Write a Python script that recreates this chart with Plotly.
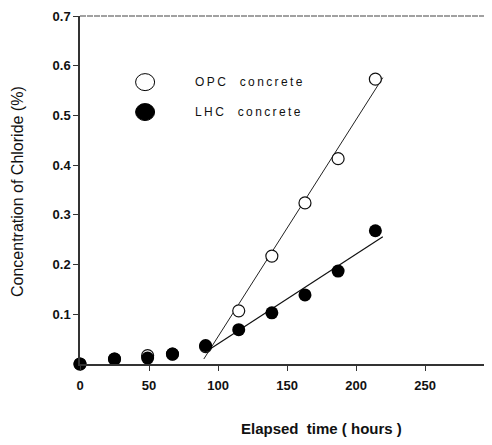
import plotly.graph_objects as go

# Elapsed time (hours)
hours = [0, 25, 49, 67, 91, 115, 139, 163, 187, 214]
# Chloride concentration (%)
opc_values = [0.0, 0.01, 0.017, 0.02, 0.035, 0.107, 0.217, 0.324, 0.413, 0.573]
lhc_values = [0.0, 0.01, 0.012, 0.02, 0.037, 0.069, 0.103, 0.139, 0.187, 0.268]

# Fitted lines (end points)
opc_fit_x = [89.7, 219.4]
opc_fit_y = [0.01, 0.576]
lhc_fit_x = [92, 219.4]
lhc_fit_y = [0.026, 0.256]

x_ticks = [0, 50, 100, 150, 200, 250]
y_ticks = [0.1, 0.2, 0.3, 0.4, 0.5, 0.6, 0.7]

series_names = ["OPC  concrete", "LHC  concrete"]

FONT = "Liberation Sans, Arial, sans-serif"

fig = go.Figure()
fig.add_trace(go.Scatter(x=opc_fit_x, y=opc_fit_y, mode="lines",
                         line=dict(color="#222", width=1), showlegend=False, hoverinfo="skip"))
fig.add_trace(go.Scatter(x=lhc_fit_x, y=lhc_fit_y, mode="lines",
                         line=dict(color="#111", width=1.2), showlegend=False, hoverinfo="skip"))
fig.add_trace(go.Scatter(x=hours, y=opc_values, mode="markers", name=series_names[0],
                         marker=dict(symbol="circle", size=12, color="white",
                                     line=dict(color="#111", width=1.2)),
                         cliponaxis=False, showlegend=False))
fig.add_trace(go.Scatter(x=hours, y=lhc_values, mode="markers", name=series_names[1],
                         marker=dict(symbol="circle", size=13, color="black",
                                     line=dict(color="black", width=0)),
                         cliponaxis=False, showlegend=False))

# Legend drawn as paper-anchored symbols and labels
legend_x = 0.158
legend_text_x = 0.274
legend_ys = [0.81, 0.724]
shapes = []
annotations = []
fills = ["white", "black"]
for name, y, fill in zip(series_names, legend_ys, fills):
    shapes.append(dict(type="circle", xref="paper", yref="paper",
                       xsizemode="pixel", ysizemode="pixel",
                       xanchor=legend_x, yanchor=y,
                       x0=-9.5, x1=9.5, y0=-8.5, y1=8.5,
                       fillcolor=fill, line=dict(color="black", width=1)))
    annotations.append(dict(text=f'<span style="letter-spacing:2.4px">{name}</span>',
                            xref="paper", yref="paper", x=legend_text_x, y=y,
                            xanchor="left", yanchor="middle", showarrow=False,
                            font=dict(size=12, family=FONT)))

# top frame line
shapes.append(dict(type="line", xref="paper", yref="paper", x0=0, x1=1, y0=1, y1=1,
                   line=dict(color="#444", width=1.2, dash="6px,1px")))

annotations.append(dict(text="Elapsed  time ( hours )", xref="paper", yref="paper",
                        x=0.387, y=-0.184, xanchor="left", yanchor="middle", showarrow=False,
                        font=dict(size=15, family=FONT, weight="bold")))
annotations.append(dict(text="Concentration of Chloride (%)", xref="paper", yref="paper",
                        x=-0.153, y=0.497, xanchor="center", yanchor="middle",
                        textangle=-90, showarrow=False,
                        font=dict(size=16, family=FONT)))

# The page adds an 8px body margin, so the figure is sized to fill the rest of the window.
fig.update_layout(
    width=484, height=437,
    margin=dict(l=72, r=0, t=8, b=81, autoexpand=False),
    paper_bgcolor="white", plot_bgcolor="white",
    font=dict(family=FONT, color="#111", size=12),
    showlegend=False,
    xaxis=dict(range=[0, 298.5], tickvals=x_ticks, ticktext=[str(v) for v in x_ticks],
               showgrid=False, zeroline=False, showline=True, linecolor="#333", linewidth=1.5,
               ticks="outside", ticklen=5, tickcolor="#333", automargin=False,
               ticklabelstandoff=4,
               tickfont=dict(size=13, family=FONT, weight="bold")),
    yaxis=dict(range=[0, 0.7], tickvals=y_ticks, ticktext=[f"{v:.1f}" for v in y_ticks],
               showgrid=False, zeroline=False, showline=True, linecolor="#333", linewidth=1.5,
               ticks="outside", ticklen=5, tickcolor="#333", automargin=False,
               tickfont=dict(size=13, family=FONT, weight="bold")),
    shapes=shapes,
    annotations=annotations,
)

fig.write_html("out.html")
